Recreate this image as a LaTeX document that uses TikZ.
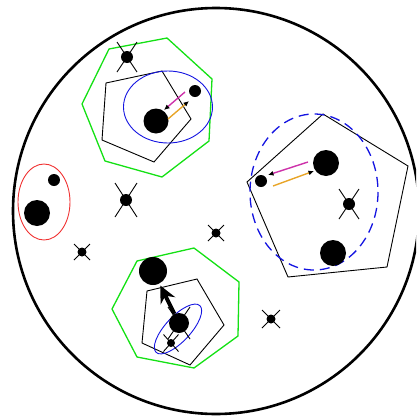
\documentclass[tikz,border=0pt]{standalone}
\usetikzlibrary{arrows.meta}
\definecolor{hgreen}{RGB}{20,225,20}
\definecolor{eblue}{RGB}{20,20,225}
\definecolor{ered}{RGB}{240,50,50}
\definecolor{apink}{RGB}{205,50,170}
\definecolor{aorange}{RGB}{232,165,40}
\begin{document}
\begin{tikzpicture}[x=1pt,y=-1pt,
  dot/.style={circle,fill=black,inner sep=0pt,minimum size=#1},
  hept/.style={draw=hgreen,line width=1.3pt},
  pent/.style={draw=black,line width=0.9pt},
  arm/.style={line width=0.9pt},
  carrow/.style={line width=1.4pt,-{Latex[color=black,length=5.5pt,width=5pt]}},
  ell/.style={line width=0.9pt}]
\useasboundingbox (0,0) rectangle (416,418);
\clip (0,0) rectangle (416,418);
% outer circle
\draw[line width=2.6pt] (216,211) circle [radius=203];

% upper-left group
\draw[hept] (109,49) -- (167,38) -- (212,79) -- (209,141) -- (162,177) -- (105,161) -- (82,104) -- cycle;
\draw[pent] (106,83) -- (162,71) -- (191,119) -- (154,162) -- (102,140) -- cycle;
\draw[ell,eblue] (168,107) ellipse [x radius=44.5, y radius=36];
\node[dot=25pt] (ulb) at (156,121) {};
\node[dot=12pt] (uls) at (195,91) {};
\coordinate (ulp1) at (185,92); \coordinate (ulp2) at (164,110);
\coordinate (ulo1) at (168,119); \coordinate (ulo2) at (189,101);
\draw[carrow,apink] (ulp1) -- (ulp2);
\draw[carrow,aorange] (ulo1) -- (ulo2);
\node[dot=12pt] (ulx) at (127,57) {};
\draw[arm] (ulx) ++(-10,-15) -- ++(20,30);
\draw[arm] (ulx) ++(10,-15) -- ++(-20,30);

% right group
\draw[pent] (323,114) -- (408,166) -- (387,267) -- (288,277) -- (247,182) -- cycle;
\draw[ell,eblue,line width=1.3pt,dash pattern=on 10pt off 6pt] (314,192) ellipse [x radius=64, y radius=78];
\node[dot=26pt] (rb) at (326,163) {};
\node[dot=12pt] (rs) at (261,181) {};
\node[dot=26pt] (rbb) at (333,253) {};
\coordinate (rp1) at (308,162); \coordinate (rp2) at (268,175);
\coordinate (ro1) at (273,186); \coordinate (ro2) at (314,171);
\draw[carrow,apink] (rp1) -- (rp2);
\draw[carrow,aorange] (ro1) -- (ro2);
\node[dot=12pt] (rx) at (349,204) {};
\draw[arm] (rx) ++(-10,-15) -- ++(20,30);
\draw[arm] (rx) ++(10,-15) -- ++(-20,30);

% left red group
\draw[ell,ered] (44,202) ellipse [x radius=26, y radius=38];
\node[dot=12pt] (ls) at (54,180) {};
\node[dot=26pt] (lb) at (37,213) {};

% free cross dots
\node[dot=12pt] (cx1) at (126,200) {};
\draw[arm] (cx1) ++(-11,-17) -- ++(22,34);
\draw[arm] (cx1) ++(11,-17) -- ++(-22,34);
\node[dot=9pt] (cx2) at (82,252) {};
\draw[arm] (cx2) ++(-8,-8) -- ++(16,16);
\draw[arm] (cx2) ++(8,-8) -- ++(-16,16);
\node[dot=9pt] (cx3) at (216,233) {};
\draw[arm] (cx3) ++(-8,-8) -- ++(16,16);
\draw[arm] (cx3) ++(8,-8) -- ++(-16,16);
\node[dot=9pt] (cx4) at (271,319) {};
\draw[arm] (cx4) ++(-9,-9) -- ++(18,18);
\draw[arm] (cx4) ++(9,-9) -- ++(-18,18);

% bottom group
\draw[hept] (137,261) -- (194,248) -- (239,282) -- (238,336) -- (194,368) -- (137,357) -- (112,309) -- cycle;
\draw[pent] (147,291) -- (197,279) -- (224,325) -- (190,365) -- (142,343) -- cycle;
\begin{scope}[shift={(178,329)},rotate=47]
\draw[ell,eblue] (0,0) ellipse [x radius=32, y radius=12.5];
\end{scope}
\node[dot=28pt] (bt) at (153,271) {};
\node[dot=20pt] (bd) at (179,323) {};
\draw[arm] (bd) ++(-11,-16) -- ++(22,32);
\draw[arm] (bd) ++(11,-16) -- ++(-22,32);
\node[dot=8pt] (bs) at (171,343) {};
\draw[arm] (bs) ++(-7.5,-8.5) -- ++(15,17);
\draw[arm] (bs) ++(7.5,-8.5) -- ++(-15,17);
\draw[line width=4pt,-{Stealth[length=17pt,width=16pt]},shorten >=2pt] (bd) -- (bt);
\end{tikzpicture}
\end{document}
